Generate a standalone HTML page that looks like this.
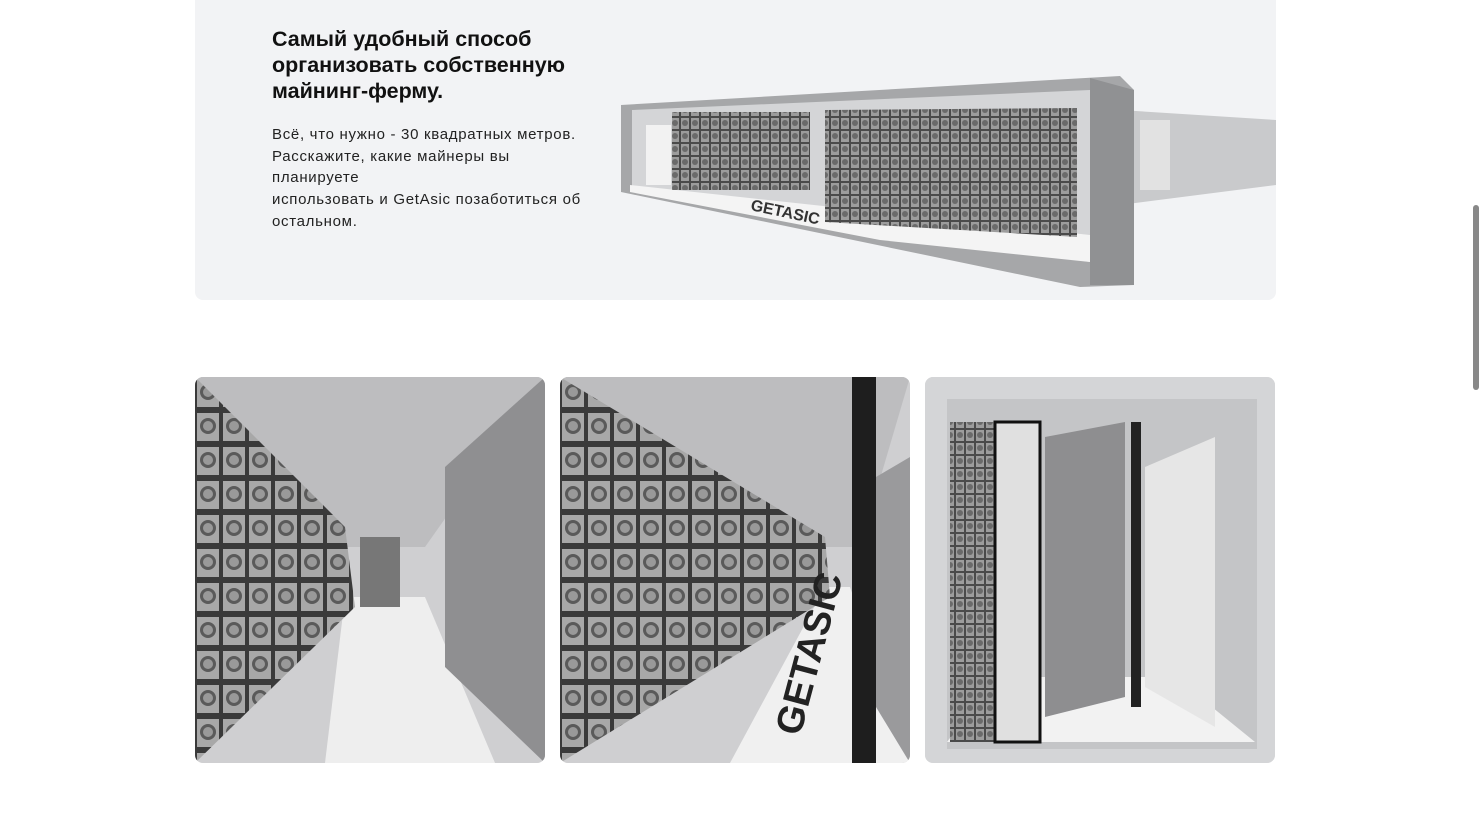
<!DOCTYPE html>
<html><head><meta charset="utf-8"><style>
html,body{margin:0;padding:0;background:#fff;width:1482px;height:834px;overflow:hidden;font-family:"Liberation Sans",sans-serif}
.panel{position:absolute;left:195px;top:-10px;width:1081px;height:310px;background:#f2f3f5;border-radius:8px}
h1{position:absolute;left:272px;top:26px;margin:0;font-size:21.5px;line-height:26px;font-weight:bold;color:#111;width:330px}
p{position:absolute;left:272px;top:124px;margin:0;font-size:15px;line-height:21.7px;color:#222;white-space:nowrap;letter-spacing:0.7px}
.img{position:absolute;top:377px;width:350px;height:386px;border-radius:8px;overflow:hidden;background:#ddd}
.sb{position:absolute;left:1473px;top:205px;width:6px;height:185px;background:#888;border-radius:3px}
</style></head><body>
<div class="panel"></div>
<h1>Самый удобный способ организовать собственную майнинг-ферму.</h1>
<p>Всё, что нужно - 30 квадратных метров.<br>Расскажите, какие майнеры вы<br>планируете<br>использовать и GetAsic позаботиться об<br>остальном.</p>
<svg style="position:absolute;left:0;top:0" width="1482" height="834">
<defs>
<pattern id="rk" width="10" height="13" patternUnits="userSpaceOnUse"><rect width="10" height="13" fill="#4a4a4a"/><rect x="1" y="1" width="8" height="11" fill="#9c9c9c"/><circle cx="5" cy="6" r="3" fill="#6a6a6a"/></pattern>
<pattern id="rk2" width="26" height="34" patternUnits="userSpaceOnUse"><rect width="26" height="34" fill="#3a3a3a"/><rect x="2" y="2" width="22" height="28" fill="#a8a8a8"/><circle cx="13" cy="15" r="8" fill="#5a5a5a"/><circle cx="13" cy="15" r="5" fill="#999"/></pattern>
</defs>
<polygon points="1120,110 1276,120 1276,185 1120,205" fill="#c9cacc"/>
<rect x="1140" y="120" width="30" height="70" fill="#e2e2e2"/>
<polygon points="621,105 1120,76 1134,90 1134,285 1080,287 621,192" fill="#a6a7a9"/>
<polygon points="632,110 1090,90 1090,262 632,190" fill="#d4d5d7"/>
<polygon points="630,185 1090,235 1090,262 880,240 630,192" fill="#f4f4f4"/>
<rect x="646" y="125" width="25" height="60" fill="#f2f2f2"/>
<rect x="672" y="112" width="138" height="78" fill="url(#rk)"/>
<polygon points="825,110 1077,108 1077,237 825,222" fill="url(#rk)"/>
<polygon points="1090,78 1134,90 1134,285 1090,285" fill="#909193"/>
<text x="750" y="210" font-size="16" font-weight="bold" fill="#333" transform="rotate(12 750 210)" font-family="Liberation Sans">GETASIC</text>
</svg>
<div class="img" style="left:195px"><svg width="350" height="386">
<rect width="350" height="386" fill="#cfcfd1"/>
<polygon points="0,0 350,0 230,170 150,170" fill="#bdbdbf"/>
<polygon points="130,386 300,386 230,220 150,220" fill="#eeeeee"/>
<polygon points="0,0 150,150 160,230 0,386" fill="url(#rk2)"/>
<polygon points="250,90 350,0 350,386 250,290" fill="#8f8f91"/>
<rect x="165" y="160" width="40" height="70" fill="#777"/>
</svg></div>
<div class="img" style="left:560px"><svg width="350" height="386">
<rect width="350" height="386" fill="#cfcfd1"/>
<polygon points="0,0 350,0 300,170 260,170" fill="#bdbdbf"/>
<polygon points="170,386 350,386 290,210 265,210" fill="#f0f0f0"/>
<polygon points="0,0 265,160 270,220 0,386" fill="url(#rk2)"/>
<rect x="292" y="0" width="24" height="386" fill="#1e1e1e"/>
<polygon points="316,100 350,80 350,386 316,330" fill="#9a9a9c"/>
<text x="240" y="360" font-size="38" font-weight="bold" fill="#222" transform="rotate(-75 240 360)" font-family="Liberation Sans">GETASIC</text>
</svg></div>
<div class="img" style="left:925px"><svg width="350" height="386">
<rect width="350" height="386" fill="#d4d5d7"/>
<rect x="22" y="22" width="310" height="350" fill="#c4c5c7"/>
<polygon points="22,365 330,365 250,300 70,300" fill="#f2f2f2"/>
<rect x="25" y="45" width="90" height="320" fill="url(#rk)"/>
<rect x="70" y="45" width="45" height="320" fill="#e0e0e0" stroke="#111" stroke-width="3"/>
<polygon points="120,60 200,45 200,320 120,340" fill="#8e8e90"/>
<rect x="206" y="45" width="10" height="285" fill="#222"/>
<polygon points="220,90 290,60 290,350 220,310" fill="#e6e6e6"/>
</svg></div>
<div class="sb"></div>
</body></html>
